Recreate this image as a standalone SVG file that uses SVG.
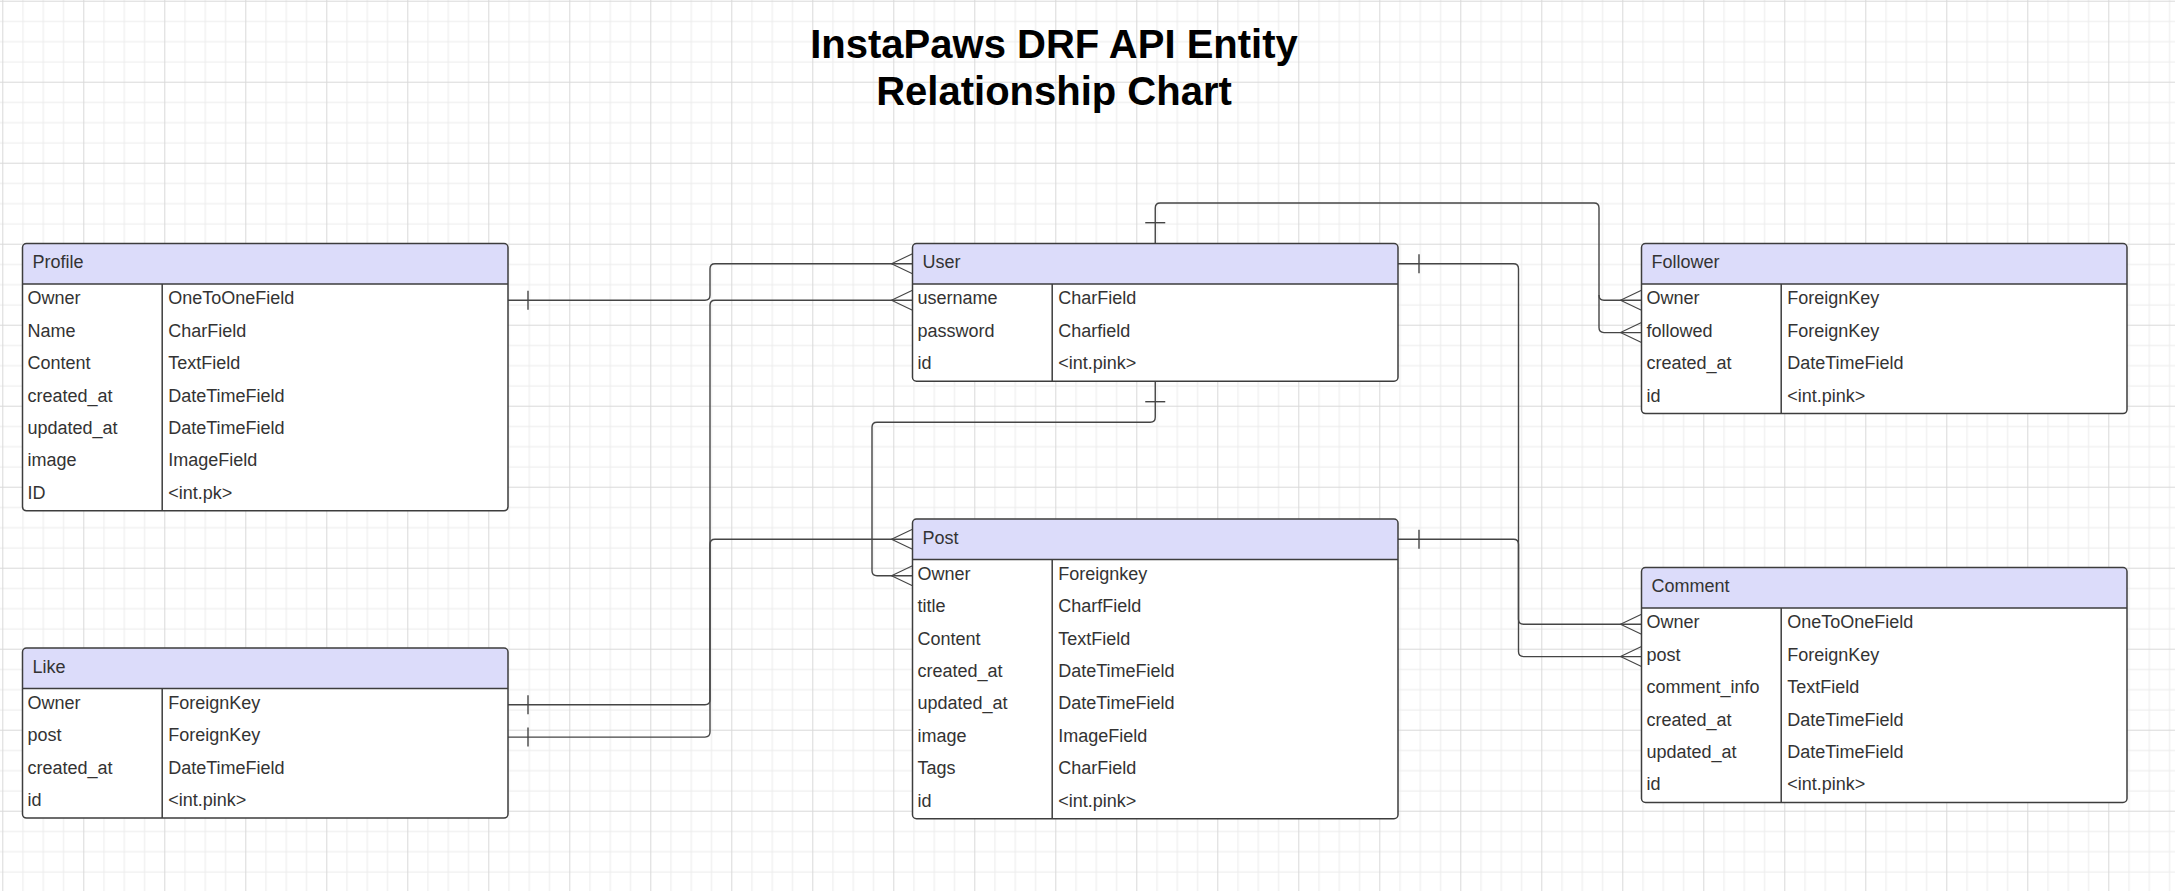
<svg xmlns="http://www.w3.org/2000/svg" width="2175" height="891" viewBox="0 0 2175 891">
<style>
.t{font-family:"Liberation Sans",Arial,sans-serif;font-size:18px;fill:#333333}
.title{font-family:"Liberation Sans",Arial,sans-serif;font-size:40px;font-weight:bold;fill:#000000;text-anchor:middle}
.bg{fill:#ffffff;stroke:none}
.hdr{fill:#dcdcfa;stroke:none}
.out{fill:none;stroke:#3d3d3d;stroke-width:1.5}
.sep{stroke:#3d3d3d;stroke-width:1.5}
.c{fill:none;stroke:#454545;stroke-width:1.4}
.cf{fill:none;stroke:#454545;stroke-width:1.1}
</style>
<defs>
<pattern id="grid" patternUnits="userSpaceOnUse" x="2.3" y="0.7" width="81" height="81">
<rect x="0" y="0" width="81" height="81" fill="#ffffff"/>
<rect x="20.25" y="0" width="1" height="81" fill="#ececec"/>
<rect x="40.5" y="0" width="1" height="81" fill="#ececec"/>
<rect x="60.75" y="0" width="1" height="81" fill="#ececec"/>
<rect x="0" y="20.25" width="81" height="1" fill="#ececec"/>
<rect x="0" y="40.5" width="81" height="1" fill="#ececec"/>
<rect x="0" y="60.75" width="81" height="1" fill="#ececec"/>
<rect x="0" y="0" width="1" height="81" fill="#d9d9d9"/>
<rect x="0" y="0" width="81" height="1" fill="#d9d9d9"/>
</pattern>
</defs>
<rect x="0" y="0" width="2175" height="891" fill="url(#grid)"/>

<g id="title">
<text class="title" x="1054" y="58.3">InstaPaws DRF API Entity</text>
<text class="title" x="1054" y="104.5">Relationship Chart</text>
</g>

<g id="connectors">
<!-- Profile.Owner -> User -->
<path class="c" d="M508,300.2 H705 Q710,300.2 710,295.2 V268.75 Q710,263.75 715,263.75 H912.5"/>
<path class="c" d="M528,290.7 V309.7"/>
<path class="cf" d="M912.5,253.75 L891.5,263.75 L912.5,273.75"/>
<!-- Like.Owner -> User.username -->
<path class="c" d="M508,704.7 H705 Q710,704.7 710,699.7 V305.2 Q710,300.2 715,300.2 H912.5"/>
<path class="c" d="M528,695.2 V714.2"/>
<path class="cf" d="M912.5,290.2 L891.5,300.2 L912.5,310.2"/>
<!-- Like.post -> Post -->
<path class="c" d="M508,737.1 H705 Q710,737.1 710,732.1 V544.25 Q710,539.25 715,539.25 H912.5"/>
<path class="c" d="M528,727.6 V746.6"/>
<path class="cf" d="M912.5,529.25 L891.5,539.25 L912.5,549.25"/>
<!-- User -> Post.Owner -->
<path class="c" d="M1155.25,381.2 V417.3 Q1155.25,422.3 1150.25,422.3 H877 Q872,422.3 872,427.3 V570.7 Q872,575.7 877,575.7 H912.5"/>
<path class="c" d="M1145.25,401.7 H1165.25"/>
<path class="cf" d="M912.5,565.7 L891.5,575.7 L912.5,585.7"/>
<!-- User -> Follower.Owner / followed -->
<path class="c" d="M1155.25,243.5 V208 Q1155.25,203 1160.25,203 H1594 Q1599,203 1599,208 V295.2 Q1599,300.2 1604,300.2 H1641.5"/>
<path class="c" d="M1599,295 V327.6 Q1599,332.6 1604,332.6 H1641.5"/>
<path class="c" d="M1145.25,222.7 H1165.25"/>
<path class="cf" d="M1641.5,290.2 L1620.5,300.2 L1641.5,310.2"/>
<path class="cf" d="M1641.5,322.6 L1620.5,332.6 L1641.5,342.6"/>
<!-- User -> Comment.Owner -->
<path class="c" d="M1398,263.75 H1513.5 Q1518.5,263.75 1518.5,268.75 V619.2 Q1518.5,624.2 1523.5,624.2 H1641.5"/>
<path class="c" d="M1419,254.25 V273.25"/>
<path class="cf" d="M1641.5,614.2 L1620.5,624.2 L1641.5,634.2"/>
<!-- Post -> Comment.post -->
<path class="c" d="M1398,539.25 H1513.5 Q1518.5,539.25 1518.5,544.25 V651.6 Q1518.5,656.6 1523.5,656.6 H1641.5"/>
<path class="c" d="M1419,529.75 V548.75"/>
<path class="cf" d="M1641.5,646.6 L1620.5,656.6 L1641.5,666.6"/>
</g>

<g id="profile" transform="translate(22.5,243.5)">
<rect class="bg" x="0" y="0" width="485.5" height="267.3" rx="4"/>
<path class="hdr" d="M0,40.5 V4 Q0,0 4,0 H481.5 Q485.5,0 485.5,4 V40.5 Z"/>
<line class="sep" x1="0" y1="40.5" x2="485.5" y2="40.5"/>
<line class="sep" x1="139.7" y1="40.5" x2="139.7" y2="267.3"/>
<rect class="out" x="0" y="0" width="485.5" height="267.3" rx="4"/>
<text class="t" x="10" y="24.5">Profile</text>
<text class="t" x="5" y="60.8">Owner</text><text class="t" x="145.7" y="60.8">OneToOneField</text>
<text class="t" x="5" y="93.2">Name</text><text class="t" x="145.7" y="93.2">CharField</text>
<text class="t" x="5" y="125.6">Content</text><text class="t" x="145.7" y="125.6">TextField</text>
<text class="t" x="5" y="158">created_at</text><text class="t" x="145.7" y="158">DateTimeField</text>
<text class="t" x="5" y="190.4">updated_at</text><text class="t" x="145.7" y="190.4">DateTimeField</text>
<text class="t" x="5" y="222.8">image</text><text class="t" x="145.7" y="222.8">ImageField</text>
<text class="t" x="5" y="255.2">ID</text><text class="t" x="145.7" y="255.2">&lt;int.pk&gt;</text>
</g>

<g id="user" transform="translate(912.5,243.5)">
<rect class="bg" x="0" y="0" width="485.5" height="137.7" rx="4"/>
<path class="hdr" d="M0,40.5 V4 Q0,0 4,0 H481.5 Q485.5,0 485.5,4 V40.5 Z"/>
<line class="sep" x1="0" y1="40.5" x2="485.5" y2="40.5"/>
<line class="sep" x1="139.7" y1="40.5" x2="139.7" y2="137.7"/>
<rect class="out" x="0" y="0" width="485.5" height="137.7" rx="4"/>
<text class="t" x="10" y="24.5">User</text>
<text class="t" x="5" y="60.8">username</text><text class="t" x="145.7" y="60.8">CharField</text>
<text class="t" x="5" y="93.2">password</text><text class="t" x="145.7" y="93.2">Charfield</text>
<text class="t" x="5" y="125.6">id</text><text class="t" x="145.7" y="125.6">&lt;int.pink&gt;</text>
</g>

<g id="follower" transform="translate(1641.5,243.5)">
<rect class="bg" x="0" y="0" width="485.5" height="170.1" rx="4"/>
<path class="hdr" d="M0,40.5 V4 Q0,0 4,0 H481.5 Q485.5,0 485.5,4 V40.5 Z"/>
<line class="sep" x1="0" y1="40.5" x2="485.5" y2="40.5"/>
<line class="sep" x1="139.7" y1="40.5" x2="139.7" y2="170.1"/>
<rect class="out" x="0" y="0" width="485.5" height="170.1" rx="4"/>
<text class="t" x="10" y="24.5">Follower</text>
<text class="t" x="5" y="60.8">Owner</text><text class="t" x="145.7" y="60.8">ForeignKey</text>
<text class="t" x="5" y="93.2">followed</text><text class="t" x="145.7" y="93.2">ForeignKey</text>
<text class="t" x="5" y="125.6">created_at</text><text class="t" x="145.7" y="125.6">DateTimeField</text>
<text class="t" x="5" y="158">id</text><text class="t" x="145.7" y="158">&lt;int.pink&gt;</text>
</g>

<g id="post" transform="translate(912.5,519)">
<rect class="bg" x="0" y="0" width="485.5" height="299.7" rx="4"/>
<path class="hdr" d="M0,40.5 V4 Q0,0 4,0 H481.5 Q485.5,0 485.5,4 V40.5 Z"/>
<line class="sep" x1="0" y1="40.5" x2="485.5" y2="40.5"/>
<line class="sep" x1="139.7" y1="40.5" x2="139.7" y2="299.7"/>
<rect class="out" x="0" y="0" width="485.5" height="299.7" rx="4"/>
<text class="t" x="10" y="24.5">Post</text>
<text class="t" x="5" y="60.8">Owner</text><text class="t" x="145.7" y="60.8">Foreignkey</text>
<text class="t" x="5" y="93.2">title</text><text class="t" x="145.7" y="93.2">CharfField</text>
<text class="t" x="5" y="125.6">Content</text><text class="t" x="145.7" y="125.6">TextField</text>
<text class="t" x="5" y="158">created_at</text><text class="t" x="145.7" y="158">DateTimeField</text>
<text class="t" x="5" y="190.4">updated_at</text><text class="t" x="145.7" y="190.4">DateTimeField</text>
<text class="t" x="5" y="222.8">image</text><text class="t" x="145.7" y="222.8">ImageField</text>
<text class="t" x="5" y="255.2">Tags</text><text class="t" x="145.7" y="255.2">CharField</text>
<text class="t" x="5" y="287.6">id</text><text class="t" x="145.7" y="287.6">&lt;int.pink&gt;</text>
</g>

<g id="like" transform="translate(22.5,648)">
<rect class="bg" x="0" y="0" width="485.5" height="170.1" rx="4"/>
<path class="hdr" d="M0,40.5 V4 Q0,0 4,0 H481.5 Q485.5,0 485.5,4 V40.5 Z"/>
<line class="sep" x1="0" y1="40.5" x2="485.5" y2="40.5"/>
<line class="sep" x1="139.7" y1="40.5" x2="139.7" y2="170.1"/>
<rect class="out" x="0" y="0" width="485.5" height="170.1" rx="4"/>
<text class="t" x="10" y="24.5">Like</text>
<text class="t" x="5" y="60.8">Owner</text><text class="t" x="145.7" y="60.8">ForeignKey</text>
<text class="t" x="5" y="93.2">post</text><text class="t" x="145.7" y="93.2">ForeignKey</text>
<text class="t" x="5" y="125.6">created_at</text><text class="t" x="145.7" y="125.6">DateTimeField</text>
<text class="t" x="5" y="158">id</text><text class="t" x="145.7" y="158">&lt;int.pink&gt;</text>
</g>

<g id="comment" transform="translate(1641.5,567.5)">
<rect class="bg" x="0" y="0" width="485.5" height="234.9" rx="4"/>
<path class="hdr" d="M0,40.5 V4 Q0,0 4,0 H481.5 Q485.5,0 485.5,4 V40.5 Z"/>
<line class="sep" x1="0" y1="40.5" x2="485.5" y2="40.5"/>
<line class="sep" x1="139.7" y1="40.5" x2="139.7" y2="234.9"/>
<rect class="out" x="0" y="0" width="485.5" height="234.9" rx="4"/>
<text class="t" x="10" y="24.5">Comment</text>
<text class="t" x="5" y="60.8">Owner</text><text class="t" x="145.7" y="60.8">OneToOneField</text>
<text class="t" x="5" y="93.2">post</text><text class="t" x="145.7" y="93.2">ForeignKey</text>
<text class="t" x="5" y="125.6">comment_info</text><text class="t" x="145.7" y="125.6">TextField</text>
<text class="t" x="5" y="158">created_at</text><text class="t" x="145.7" y="158">DateTimeField</text>
<text class="t" x="5" y="190.4">updated_at</text><text class="t" x="145.7" y="190.4">DateTimeField</text>
<text class="t" x="5" y="222.8">id</text><text class="t" x="145.7" y="222.8">&lt;int.pink&gt;</text>
</g>
</svg>
